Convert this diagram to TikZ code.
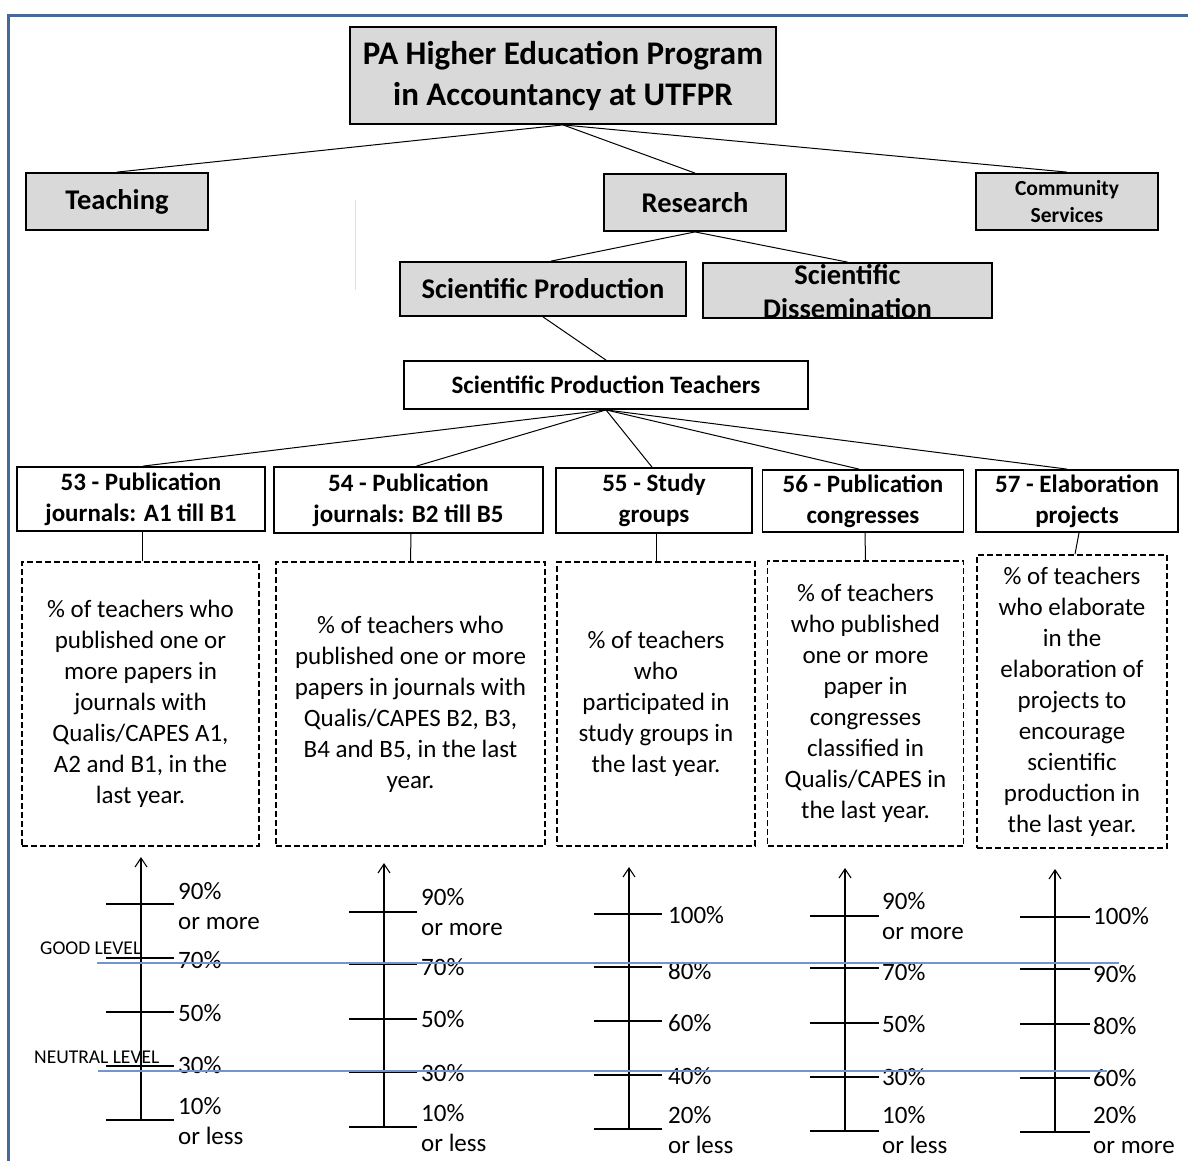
\documentclass[tikz,border=0pt]{standalone}
\usepackage{fontspec}
\setmainfont{Carlito}
\usetikzlibrary{arrows.meta}
\definecolor{framec}{HTML}{46689A}
\definecolor{boxgray}{HTML}{D9D9D9}
\definecolor{levelc}{HTML}{7396CA}
\tikzset{
  gbox/.style={draw, fill=boxgray, line width=1.8, inner sep=0, align=center, font=\bfseries},
  wbox/.style={draw, fill=white, line width=1.8, inner sep=0, align=center, font=\bfseries},
  dbox/.style={draw, dash pattern=on 6 off 3, line width=1.8, inner sep=0, align=center},
  conn/.style={line width=1},
  axisl/.style={line width=1.3, -{Straight Barb[length=9,width=12,line width=1.1]}},
  tick/.style={line width=1.3},
  lvl/.style={levelc, line width=1.6},
  slab/.style={anchor=west, inner sep=0, align=left, font=\fontsize{25}{30}\selectfont},
  dtext/.style={font=\fontsize{25}{31}\selectfont},
  htext/.style={font=\fontsize{25}{31}\selectfont\bfseries},
}
\begin{document}
\begin{tikzpicture}[x=1pt,y=-1pt]
\useasboundingbox (0,0) rectangle (1188,1160);
\fill[white] (0,0) rectangle (1188,1160);
\draw[framec, line width=3] (8,1240) -- (8,15) -- (1240,15);
\draw[black!12, line width=0.8] (355,200) -- (355,290);

% top levels
\node[gbox, minimum width=426, minimum height=97, font=\fontsize{33}{41}\selectfont\bfseries] (title) at (563,75.5) {PA Higher Education Program\\in Accountancy at UTFPR};
\node[gbox, minimum width=182, minimum height=57, font=\fontsize{28.5}{30}\selectfont\bfseries] (teach) at (117,201.5) {Teaching};
\node[gbox, minimum width=182, minimum height=57, font=\fontsize{28.5}{30}\selectfont\bfseries] (research) at (695,202.5) {Research};
\node[gbox, minimum width=182, minimum height=57, font=\fontsize{21.5}{27}\selectfont\bfseries] (comm) at (1067,201.5) {Community\\Services};
\node[gbox, minimum width=286, minimum height=54, font=\fontsize{28.5}{30}\selectfont\bfseries] (sprod) at (543,289) {Scientific Production};
\node[gbox, minimum width=289, minimum height=55] (sdiss) at (847.5,290.5) {};
\node[inner sep=0, align=center, font=\fontsize{28.5}{34}\selectfont\bfseries] (sdisst) at (847.5,292) {Scientific\\Dissemination};
\node[wbox, minimum width=404, minimum height=48, font=\fontsize{25}{28}\selectfont\bfseries] (spt) at (606,385) {Scientific Production Teachers};

% indicator headers
\node[wbox, minimum width=248, minimum height=64, htext] (b53) at (141,499) {53 - Publication\\journals: A1 till B1};
\node[wbox, minimum width=269, minimum height=66, htext] (b54) at (408.5,500) {54 - Publication\\journals: B2 till B5};
\node[wbox, minimum width=196, minimum height=65, htext] (b55) at (654,500.5) {55 - Study\\groups};
\node[wbox, minimum width=201, minimum height=62, htext] (b56) at (863,501) {56 - Publication\\congresses};
\node[wbox, minimum width=202, minimum height=62, htext] (b57) at (1077,501) {57 - Elaboration\\projects};

% dashed description boxes
\node[dbox, minimum width=237, minimum height=284, dtext] (d53) at (140.5,704) {\% of teachers who\\published one or\\more papers in\\journals with\\Qualis/CAPES A1,\\A2 and B1, in the\\last year.};
\node[dbox, minimum width=269, minimum height=284, dtext] (d54) at (410.5,704) {\% of teachers who\\published one or more\\papers in journals with\\Qualis/CAPES B2, B3,\\B4 and B5, in the last\\year.};
\node[dbox, minimum width=198, minimum height=284, dtext] (d55) at (656,704) {\% of teachers\\who\\participated in\\study groups in\\the last year.};
\node[dbox, minimum width=196, minimum height=285, dtext] (d56) at (865.5,703.5) {\% of teachers\\who published\\one or more\\paper in\\congresses\\classified in\\Qualis/CAPES in\\the last year.};
\node[dbox, minimum width=190, minimum height=293, dtext] (d57) at (1072,701.5) {\% of teachers\\who elaborate\\in the\\elaboration of\\projects to\\encourage\\scientific\\production in\\the last year.};

% connectors
\draw[conn] (title.south) -- (teach.north);
\draw[conn] (title.south) -- (research.north);
\draw[conn] (title.south) -- (comm.north);
\draw[conn] (research.south) -- ([xshift=8]sprod.north);
\draw[conn] (research.south) -- (sdiss.north);
\draw[conn] (sprod.south) -- (spt.north);
\draw[conn] (spt.south) -- ([xshift=2]b53.north);
\draw[conn] (spt.south) -- ([xshift=8]b54.north);
\draw[conn] (spt.south) -- ([xshift=-2]b55.north);
\draw[conn] (spt.south) -- ([xshift=-4]b56.north);
\draw[conn] (spt.south) -- ([xshift=-10]b57.north);
\draw[conn] ([xshift=1]b53.south) -- ([xshift=1.5]d53.north);
\draw[conn] ([xshift=2.5]b54.south) -- (d54.north);
\draw[conn] ([xshift=2]b55.south) -- (d55.north);
\draw[conn] ([xshift=2]b56.south) -- (d56.north);
\draw[conn] ([xshift=2]b57.south) -- ([xshift=3]d57.north);

% scale 1
\coordinate (a1b) at (141,1120); \coordinate (a1t) at (141,857);
\draw[axisl] (a1b) -- (a1t);
\foreach \y in {904,958,1012,1066,1120} \draw[tick] (106,\y) -- (174,\y);
\node[slab] (l1a) at (178,906) {90\%\\or more};
\node[slab] (l1b) at (178,960) {70\%};
\node[slab] (l1c) at (178,1013) {50\%};
\node[slab] (l1d) at (178,1065) {30\%};
\node[slab] (l1e) at (178,1121) {10\%\\or less};

% scale 2
\coordinate (a2b) at (384,1127); \coordinate (a2t) at (384,863);
\draw[axisl] (a2b) -- (a2t);
\foreach \y in {912,964,1019,1072,1127} \draw[tick] (349,\y) -- (417,\y);
\node[slab] (l2a) at (421,912) {90\%\\or more};
\node[slab] (l2b) at (421,967) {70\%};
\node[slab] (l2c) at (421,1019) {50\%};
\node[slab] (l2d) at (421,1073) {30\%};
\node[slab] (l2e) at (421,1128) {10\%\\or less};

% scale 3
\coordinate (a3b) at (629,1129); \coordinate (a3t) at (629,867);
\draw[axisl] (a3b) -- (a3t);
\foreach \y in {914,967,1021,1075,1129} \draw[tick] (594,\y) -- (662,\y);
\node[slab] (l3a) at (668,915) {100\%};
\node[slab] (l3b) at (668,971) {80\%};
\node[slab] (l3c) at (668,1023) {60\%};
\node[slab] (l3d) at (668,1076) {40\%};
\node[slab] (l3e) at (668,1130) {20\%\\or less};

% scale 4
\coordinate (a4b) at (845,1131); \coordinate (a4t) at (845,868);
\draw[axisl] (a4b) -- (a4t);
\foreach \y in {916,968,1023,1077,1131} \draw[tick] (810,\y) -- (879,\y);
\node[slab] (l4a) at (882,916) {90\%\\or more};
\node[slab] (l4b) at (882,972) {70\%};
\node[slab] (l4c) at (882,1024) {50\%};
\node[slab] (l4d) at (882,1077) {30\%};
\node[slab] (l4e) at (882,1130) {10\%\\or less};

% scale 5
\coordinate (a5b) at (1055,1132); \coordinate (a5t) at (1055,869);
\draw[axisl] (a5b) -- (a5t);
\foreach \y in {917,969,1024,1078,1132} \draw[tick] (1020,\y) -- (1090,\y);
\node[slab] (l5a) at (1093,916) {100\%};
\node[slab] (l5b) at (1093,974) {90\%};
\node[slab] (l5c) at (1093,1026) {80\%};
\node[slab] (l5d) at (1093,1078) {60\%};
\node[slab] (l5e) at (1093,1130) {20\%\\or more};

% level lines
\coordinate (g1) at (97,963); \coordinate (g2) at (1119,963);
\coordinate (n1) at (98,1071); \coordinate (n2) at (1107,1071);
\draw[lvl] (g1) -- (g2);
\draw[lvl] (n1) -- (n2);
\node[anchor=west, inner sep=0, font=\fontsize{19.5}{20}\selectfont] (good) at (40,948) {GOOD LEVEL};
\node[anchor=west, inner sep=0, font=\fontsize{19.5}{20}\selectfont] (neutral) at (34,1057) {NEUTRAL LEVEL};
\end{tikzpicture}
\end{document}
